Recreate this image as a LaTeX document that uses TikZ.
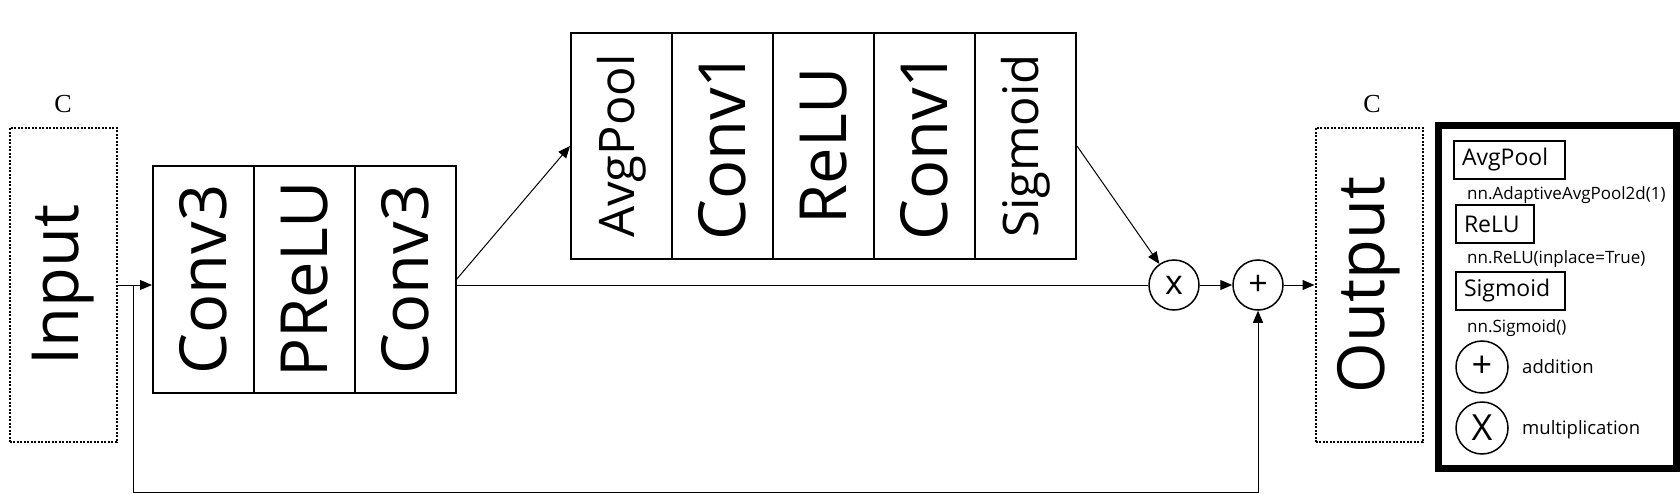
\documentclass[tikz,border=0pt]{standalone}
\usepackage{fontspec}
\usepackage{graphicx}
\setmainfont{Open Sans}
\newfontfamily\serifC{Liberation Serif}
\usetikzlibrary{arrows.meta}
\tikzset{
  cellbox/.style={draw, line width=2pt, inner sep=0pt},
  dotbox/.style={draw, line width=2pt, dash pattern=on 2pt off 1.5pt, inner sep=0pt, minimum width=107pt, minimum height=314pt},
  conn/.style={line width=1pt},
  arr/.style={line width=1pt, -{Triangle[length=12pt,width=10pt]}},
  opcirc/.style={draw, circle, line width=1.5pt, minimum size=50pt, inner sep=0pt},
  legbox/.style={draw, line width=2pt, anchor=west, align=left, inner xsep=8pt, inner ysep=0pt, minimum height=38pt, font=\fontsize{23}{26}\selectfont},
  legtxt/.style={anchor=base west, inner sep=0pt, font=\fontsize{17}{20}\selectfont},
  legtxtb/.style={anchor=base west, inner sep=0pt, font=\fontsize{18.5}{22}\selectfont},
  bigtxt/.style={font=\fontsize{65}{72}\selectfont},
  midtxt/.style={font=\fontsize{49}{56}\selectfont},
  clabel/.style={font=\serifC\fontsize{26}{30}\selectfont, inner sep=0pt}
}
\begin{document}
\begin{tikzpicture}[x=1pt,y=-1pt]
\useasboundingbox (0,0) rectangle (1680,494);
% input / output
\node[dotbox, bigtxt] (in) at (63,285) {\rotatebox{90}{Input}};
\node[clabel] (cin) at (63,104) {C};
\node[dotbox, bigtxt] (out) at (1369,285) {\rotatebox{90}{Output}};
\node[clabel] (cout) at (1372,104) {C};
% main block
\node[cellbox, bigtxt, minimum width=101pt, minimum height=227pt] (c1) at (203.5,279.5) {\rotatebox{90}{Conv3}};
\node[cellbox, bigtxt, minimum width=101pt, minimum height=227pt] (c2) at (304.5,279.5) {\rotatebox{90}{PReLU}};
\node[cellbox, bigtxt, minimum width=101pt, minimum height=227pt] (c3) at (405.5,279.5) {\rotatebox{90}{Conv3}};
% top block
\node[cellbox, midtxt, minimum width=101pt, minimum height=226pt] (a1) at (621.5,146) {\rotatebox{90}{AvgPool}};
\node[cellbox, bigtxt, minimum width=101pt, minimum height=226pt] (a2) at (722.5,146) {\rotatebox{90}{Conv1}};
\node[cellbox, bigtxt, minimum width=101pt, minimum height=226pt] (a3) at (823.5,146) {\rotatebox{90}{ReLU}};
\node[cellbox, bigtxt, minimum width=101pt, minimum height=226pt] (a4) at (924.5,146) {\rotatebox{90}{Conv1}};
\node[cellbox, midtxt, minimum width=101pt, minimum height=226pt] (a5) at (1025.5,146) {\rotatebox{90}{Sigmoid}};
% operators
\node[opcirc, font=\fontsize{34}{38}\selectfont] (times) at (1174,285) {x};
\node[opcirc, font=\fontsize{34}{38}\selectfont] (plus) at (1258,285) {+};
% coordinates
\coordinate (br) at (133,285);
\coordinate (bot) at (133,492);
\coordinate (c3out) at (456,280);
% connectors
\draw[arr] (in.east) -- (c1.west |- in.east);
\draw[conn] (c3.east |- in.east) -- (times.west);
\draw[arr] (c3out) -- (a1.west);
\draw[arr] (a5.east) -- (times);
\draw[arr] (times) -- (plus);
\draw[arr] (plus) -- (out.west |- plus);
\draw[arr] (br) -- (bot) -| (plus.south);
% legend
\draw[line width=7pt] (1438.5,125.5) rectangle (1676.5,468.5);
\node[legbox, text width=95pt] (lg1) at (1453,160) {AvgPool};
\node[legtxt] (lt1) at (1467,200) {nn.AdaptiveAvgPool2d(1)};
\node[legbox, text width=62pt] (lg2) at (1455,224) {ReLU};
\node[legtxt] (lt2) at (1467,264) {nn.ReLU(inplace=True)};
\node[legbox, text width=93pt] (lg3) at (1455,290.5) {Sigmoid};
\node[legtxt] (lt3) at (1467,332) {nn.Sigmoid()};
\node[opcirc, minimum size=52pt, font=\fontsize{36}{40}\selectfont] (lplus) at (1482,367) {+};
\node[legtxtb] (lt4) at (1522,373) {addition};
\node[opcirc, minimum size=52pt, font=\fontsize{36}{40}\selectfont] (ltimes) at (1482,428) {X};
\node[legtxtb] (lt5) at (1522,434) {multiplication};
\end{tikzpicture}
\end{document}
